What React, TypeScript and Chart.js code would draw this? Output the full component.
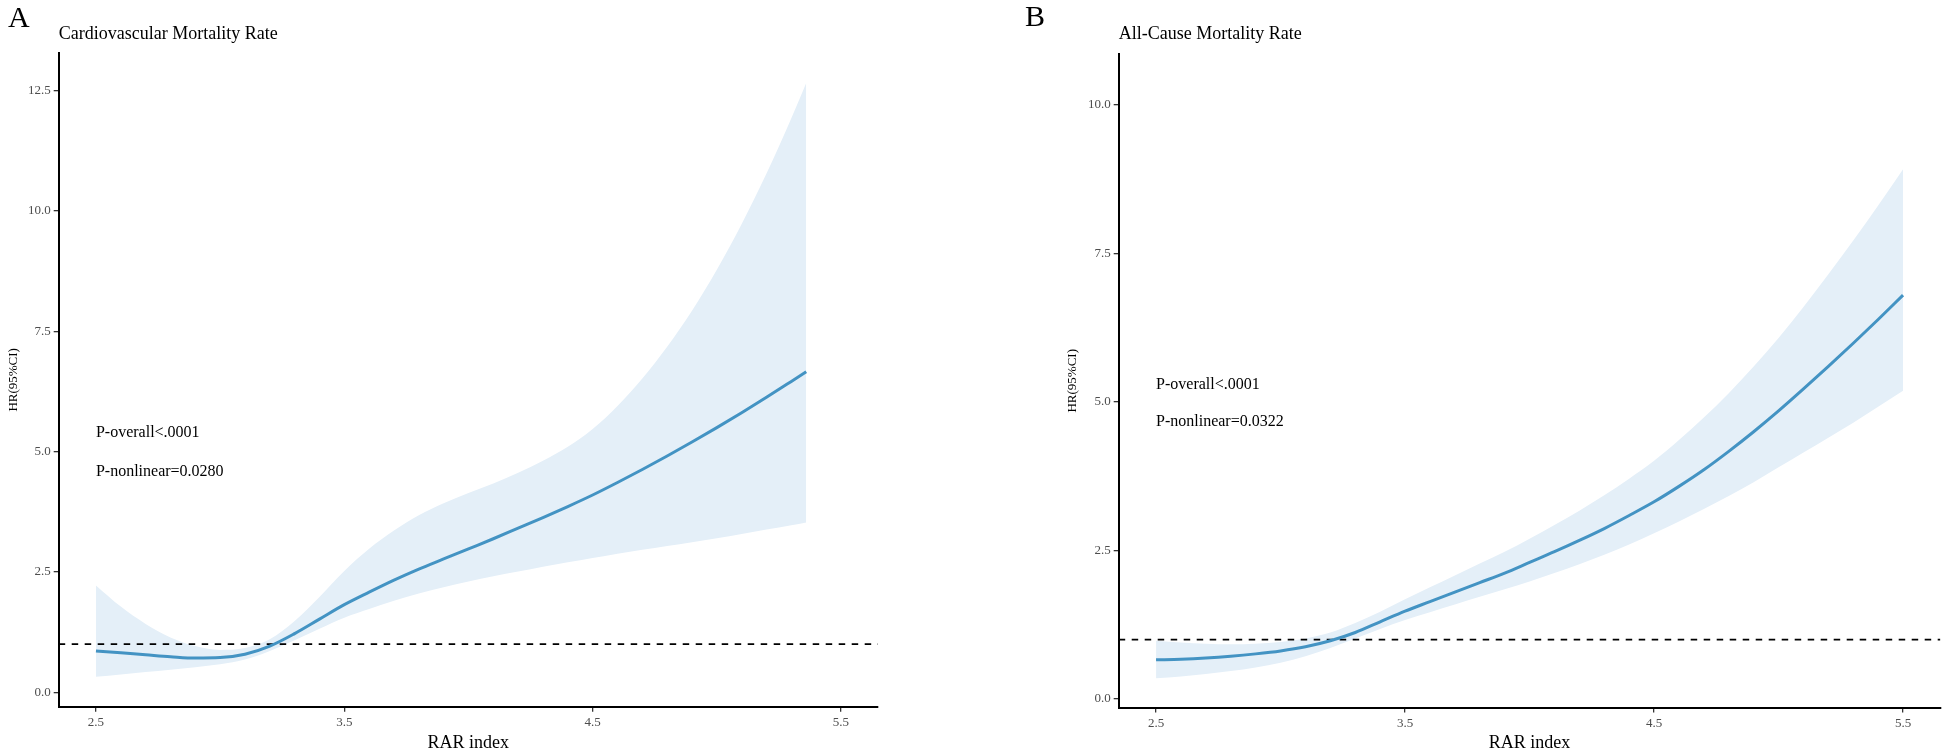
import React, { useEffect, useRef } from "react";
import { Chart, registerables } from "chart.js";

Chart.register(...registerables);
Chart.defaults.font.family = '"Liberation Serif", "Times New Roman", serif';

// ---------- shared ----------
const xTicks = [2.5, 3.5, 4.5, 5.5];
const refHR = 1;
const pLabelX = 2.5;

// ---------- Panel A: Cardiovascular ----------
const cvdX = [2.5, 2.6, 2.7, 2.8, 2.9, 3.0, 3.1, 3.2, 3.3, 3.4, 3.5, 3.6, 3.7, 3.8, 3.9, 4.0, 4.1, 4.2, 4.3, 4.4, 4.5, 4.6, 4.7, 4.8, 4.9, 5.0, 5.1, 5.2, 5.3, 5.36];
const cvdHR = [0.86, 0.82, 0.78, 0.74, 0.71, 0.72, 0.79, 0.96, 1.22, 1.52, 1.82, 2.08, 2.33, 2.56, 2.77, 2.98, 3.19, 3.41, 3.63, 3.86, 4.10, 4.36, 4.63, 4.91, 5.20, 5.50, 5.81, 6.13, 6.46, 6.66];
const cvdUpper = [2.22, 1.78, 1.42, 1.14, 0.96, 0.88, 0.92, 1.10, 1.48, 1.98, 2.52, 2.98, 3.36, 3.68, 3.93, 4.14, 4.34, 4.56, 4.81, 5.10, 5.47, 5.95, 6.52, 7.18, 7.93, 8.78, 9.73, 10.78, 11.93, 12.66];
const cvdLower = [0.32, 0.37, 0.42, 0.47, 0.52, 0.58, 0.68, 0.86, 1.08, 1.32, 1.55, 1.73, 1.90, 2.05, 2.18, 2.30, 2.41, 2.51, 2.61, 2.70, 2.79, 2.88, 2.96, 3.04, 3.12, 3.20, 3.29, 3.38, 3.47, 3.53];
const cvdYTicks = [0, 2.5, 5, 7.5, 10, 12.5];
const cvdPLabels = ["P-overall<.0001", "P-nonlinear=0.0280"];
const cvdPY = [5.39, 4.58];

// ---------- Panel B: All-cause ----------
const allX = [2.5, 2.6, 2.7, 2.8, 2.9, 3.0, 3.1, 3.2, 3.3, 3.4, 3.5, 3.6, 3.7, 3.8, 3.9, 4.0, 4.1, 4.2, 4.3, 4.4, 4.5, 4.6, 4.7, 4.8, 4.9, 5.0, 5.1, 5.2, 5.3, 5.4, 5.5];
const allHR = [0.66, 0.67, 0.69, 0.72, 0.76, 0.81, 0.88, 0.98, 1.12, 1.30, 1.48, 1.64, 1.80, 1.96, 2.12, 2.30, 2.48, 2.67, 2.87, 3.09, 3.32, 3.58, 3.86, 4.17, 4.50, 4.85, 5.22, 5.60, 5.99, 6.39, 6.80];
const allUpper = [0.98, 0.95, 0.93, 0.92, 0.93, 0.96, 1.02, 1.12, 1.28, 1.47, 1.68, 1.88, 2.08, 2.28, 2.48, 2.70, 2.93, 3.17, 3.43, 3.71, 4.01, 4.36, 4.74, 5.15, 5.60, 6.08, 6.60, 7.15, 7.72, 8.31, 8.92];
const allLower = [0.35, 0.38, 0.42, 0.47, 0.53, 0.61, 0.72, 0.86, 1.02, 1.18, 1.33, 1.46, 1.59, 1.72, 1.85, 1.98, 2.12, 2.27, 2.43, 2.60, 2.79, 2.99, 3.20, 3.42, 3.65, 3.90, 4.15, 4.40, 4.65, 4.92, 5.19];
const allYTicks = [0, 2.5, 5, 7.5, 10];
const allPLabels = ["P-overall<.0001", "P-nonlinear=0.0322"];
const allPY = [5.29, 4.66];

const LINE = "#4393c3";
const BAND = "rgb(228,239,248)";

type Panel = {
  letter: string;
  title: string;
  x: number[];
  hr: number[];
  lo: number[];
  up: number[];
  yTicks: number[];
  yMin: number;
  yMax: number;
  xMin: number;
  xMax: number;
  pLabels: string[];
  pY: number[];
  width: number;
  yAxisWidth: number;
  xAxisHeight: number;
  padTop: number;
  padRight: number;
  yTitlePad: number;
  letterX: number;
  letterY: number;
};

const panelA: Panel = {
  letter: "A",
  title: "Cardiovascular Mortality Rate",
  x: cvdX, hr: cvdHR, lo: cvdLower, up: cvdUpper,
  yTicks: cvdYTicks, yMin: -0.3, yMax: 13.285, xMin: 2.35, xMax: 5.649,
  pLabels: cvdPLabels, pY: cvdPY,
  width: 971, yAxisWidth: 58.7, xAxisHeight: 44.3, padTop: 53, padRight: 93,
  yTitlePad: 6.2, letterX: 8, letterY: 27,
};

const panelB: Panel = {
  letter: "B",
  title: "All-Cause Mortality Rate",
  x: allX, hr: allHR, lo: allLower, up: allUpper,
  yTicks: allYTicks, yMin: -0.143, yMax: 10.86, xMin: 2.35, xMax: 5.65,
  pLabels: allPLabels, pY: allPY,
  width: 972, yAxisWidth: 147.7, xAxisHeight: 43.5, padTop: 54, padRight: 2.6,
  yTitlePad: 94.2, letterX: 54, letterY: 26,
};

const textPlugin = {
  id: "panelText",
  afterDraw(chart: any, _args: any, opts: any) {
    const { ctx, chartArea, scales } = chart;
    ctx.save();
    ctx.fillStyle = "#000";
    ctx.textAlign = "left";
    ctx.textBaseline = "alphabetic";
    ctx.font = '30px "Liberation Serif"';
    ctx.fillText(opts.letter, opts.letterX, opts.letterY);
    ctx.font = '18px "Liberation Serif"';
    ctx.fillText(opts.title, chartArea.left, 39);
    ctx.font = '16px "Liberation Serif"';
    ctx.textBaseline = "middle";
    opts.labels.forEach((t: string, i: number) => {
      ctx.fillText(t, scales.x.getPixelForValue(opts.px), scales.y.getPixelForValue(opts.py[i]));
    });
    ctx.restore();
  },
};

function PanelChart({ p }: { p: Panel }) {
  const ref = useRef<HTMLCanvasElement | null>(null);
  useEffect(() => {
    if (!ref.current) return;
    const pts = (ys: number[]) => p.x.map((v, i) => ({ x: v, y: ys[i] }));
    const axisCommon = {
      grid: { drawOnChartArea: false, drawTicks: true, tickLength: 5, color: "#333", lineWidth: 1.3 },
      border: { display: true, color: "#000", width: 2 },
    };
    const chart = new Chart(ref.current, {
      type: "line",
      data: {
        datasets: [
          { data: pts(p.lo), borderColor: "transparent", borderWidth: 0, pointRadius: 0, fill: false, cubicInterpolationMode: "monotone", order: 2 },
          { data: pts(p.up), borderColor: "transparent", borderWidth: 0, pointRadius: 0, fill: "-1", backgroundColor: BAND, cubicInterpolationMode: "monotone", order: 2 },
          { data: [{ x: p.xMin, y: refHR }, { x: p.xMax, y: refHR }], borderColor: "#000", borderWidth: 1.8, borderDash: [6.5, 6.5], pointRadius: 0, fill: false, order: 1 },
          { data: pts(p.hr), borderColor: LINE, borderWidth: 3, pointRadius: 0, fill: false, cubicInterpolationMode: "monotone", order: 0 },
        ] as any,
      },
      options: {
        animation: false,
        responsive: false,
        layout: { padding: { top: p.padTop, right: p.padRight, left: 0, bottom: 0 } },
        plugins: {
          legend: { display: false },
          tooltip: { enabled: false },
          filler: { drawTime: "beforeDatasetsDraw" },
          panelText: { letter: p.letter, letterX: p.letterX, letterY: p.letterY, title: p.title, labels: p.pLabels, px: pLabelX, py: p.pY },
        } as any,
        scales: {
          x: {
            type: "linear",
            min: p.xMin,
            max: p.xMax,
            afterBuildTicks: (s: any) => { s.ticks = xTicks.map((v) => ({ value: v })); },
            afterFit: (s: any) => { s.height = p.xAxisHeight; },
            ticks: { color: "#4d4d4d", font: { size: 13 }, padding: 3, autoSkip: false, maxRotation: 0, callback: (v: any) => Number(v).toFixed(1) },
            title: { display: true, text: "RAR index", color: "#000", font: { size: 18 }, padding: { top: 0, bottom: -3 } },
            ...axisCommon,
          },
          y: {
            type: "linear",
            min: p.yMin,
            max: p.yMax,
            afterBuildTicks: (s: any) => { s.ticks = p.yTicks.map((v) => ({ value: v })); },
            afterFit: (s: any) => { s.width = p.yAxisWidth; },
            ticks: { color: "#4d4d4d", font: { size: 13 }, padding: 3, callback: (v: any) => Number(v).toFixed(1) },
            title: { display: true, text: "HR(95%CI)", color: "#000", font: { size: 13 }, padding: { top: p.yTitlePad, bottom: 0 } },
            ...axisCommon,
          },
        } as any,
      },
      plugins: [textPlugin],
    });
    return () => chart.destroy();
  }, [p]);
  return <canvas ref={ref} width={p.width} height={751} style={{ display: "block" }} />;
}

export default function App() {
  return (
    <div style={{ position: "absolute", left: 0, top: 0, width: 1943, height: 751, background: "#fff", overflow: "hidden" }}>
      <div style={{ position: "absolute", left: 0, top: 0, width: 971, height: 751 }}>
        <PanelChart p={panelA} />
      </div>
      <div style={{ position: "absolute", left: 971, top: 0, width: 972, height: 751 }}>
        <PanelChart p={panelB} />
      </div>
    </div>
  );
}
